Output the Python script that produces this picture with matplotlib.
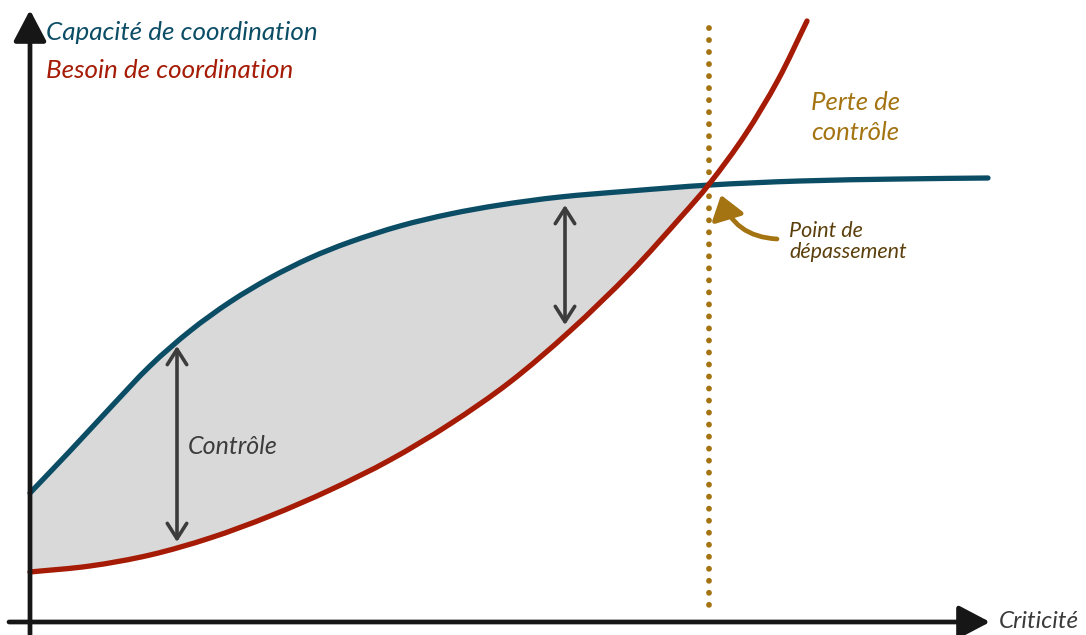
import matplotlib
matplotlib.use("Agg")
import matplotlib.pyplot as plt
import numpy as np
from matplotlib.path import Path
from matplotlib.patches import FancyArrowPatch, PathPatch

plt.rcParams["font.family"] = ["Lato", "DejaVu Sans"]

# curves (pixel space, y grows downward)
cap_x = [30, 70, 110, 150, 190, 230, 270, 310, 350, 400, 450, 500, 560, 630, 710, 800, 900, 988]
cap_y = [493, 451, 408, 366, 331, 302, 278, 258, 242, 226, 214, 205, 197, 191, 185, 181, 179, 178]

need_x = [30, 90, 150, 210, 270, 330, 390, 450, 510, 570, 630, 680, 710, 745, 778, 807]
need_y = [572, 566, 555, 538, 516, 490, 460, 424, 382, 331, 273, 218, 183, 135, 80, 21]

cross_x = 710

blue = "#0c4d66"
red = "#a51b05"
gold = "#a47413"
brown = "#5b3f0c"
dark = "#3c3c3c"


def smooth_path(xs, ys):
    # catmull-rom through the read points, as cubic bezier segments
    p = np.column_stack([xs, ys]).astype(float)
    p = np.vstack([2 * p[0] - p[1], p, 2 * p[-1] - p[-2]])
    verts = [p[1]]
    codes = [Path.MOVETO]
    for i in range(1, len(p) - 2):
        c1 = p[i] + (p[i + 1] - p[i - 1]) / 6
        c2 = p[i + 1] - (p[i + 2] - p[i]) / 6
        verts += [c1, c2, p[i + 1]]
        codes += [Path.CURVE4] * 3
    return np.array(verts), codes


fig = plt.figure(figsize=(10.86, 6.35), dpi=100)
ax = fig.add_axes([0, 0, 1, 1])
ax.set_xlim(0, 1086)
ax.set_ylim(635, 0)
ax.axis("off")

cap_v, cap_c = smooth_path(cap_x, cap_y)
need_v, need_c = smooth_path(need_x, need_y)

# shaded control area: blue from the y axis to the crossing, back along red
k_cap = cap_x.index(cross_x) + 1
k_need = need_x.index(cross_x) + 1
cv, cc = smooth_path(cap_x[:k_cap], cap_y[:k_cap])
nv, nc = smooth_path(need_x[:k_need][::-1], need_y[:k_need][::-1])
area_v = np.vstack([cv, nv[1:], cv[:1]])
area_c = cc + nc[1:] + [Path.CLOSEPOLY]
ax.add_patch(PathPatch(Path(area_v, area_c), facecolor="#d9d9d9", lw=0, zorder=1))

ax.add_patch(PathPatch(Path(cap_v, cap_c), facecolor="none", edgecolor=blue, lw=3.8,
                       capstyle="round", zorder=3))
ax.add_patch(PathPatch(Path(need_v, need_c), facecolor="none", edgecolor=red, lw=3.8,
                       capstyle="round", zorder=3))

# dotted threshold line
ax.plot([cross_x - 1, cross_x - 1], [28, 614], color=gold, lw=4.2,
        linestyle=(0, (0.01, 2.05)), dash_capstyle="round", zorder=2)

# axes with arrowheads
axis_kw = dict(arrowstyle="-|>,head_length=0.95,head_width=0.5", color="#161616", lw=3.4,
               shrinkA=0, shrinkB=0, mutation_scale=20)
ax.annotate("", xy=(30, 10), xytext=(30, 635), arrowprops=axis_kw, zorder=4)
ax.annotate("", xy=(990, 622), xytext=(9, 622), arrowprops=axis_kw, zorder=4)

# control arrows
ctl_kw = dict(arrowstyle="<->,head_length=0.55,head_width=0.35", color=dark, lw=2.6,
              shrinkA=0, shrinkB=0, mutation_scale=20)
ax.annotate("", xy=(177, 346), xytext=(177, 542), arrowprops=ctl_kw, zorder=4)
ax.annotate("", xy=(565, 205), xytext=(565, 325), arrowprops=ctl_kw, zorder=4)

# curved arrow to the crossing point
arc = FancyArrowPatch((777, 239), (721, 195), connectionstyle="arc3,rad=-0.35",
                      arrowstyle="-|>,head_length=0.7,head_width=0.5", mutation_scale=20,
                      color=gold, lw=3.4, shrinkA=0, shrinkB=0, zorder=4)
ax.add_patch(arc)

txt = dict(style="italic", va="center", ha="left")
ax.text(46, 32, "Capacité de coordination", color=blue, fontsize=18.7, **txt)
ax.text(46, 70, "Besoin de coordination", color=red, fontsize=18.7, **txt)
ax.text(188, 447, "Contrôle", color=dark, fontsize=18, **txt)
ax.text(811, 103, "Perte de", color=gold, fontsize=18.5, **txt)
ax.text(811, 133, "contrôle", color=gold, fontsize=18.5, **txt)
ax.text(789, 231, "Point de", color=brown, fontsize=15.5, **txt)
ax.text(789, 252, "dépassement", color=brown, fontsize=15.5, **txt)
ax.text(999, 621, "Criticité", color="#3a3a3a", fontsize=17.5, **txt)

fig.savefig("out.png", dpi=100)
